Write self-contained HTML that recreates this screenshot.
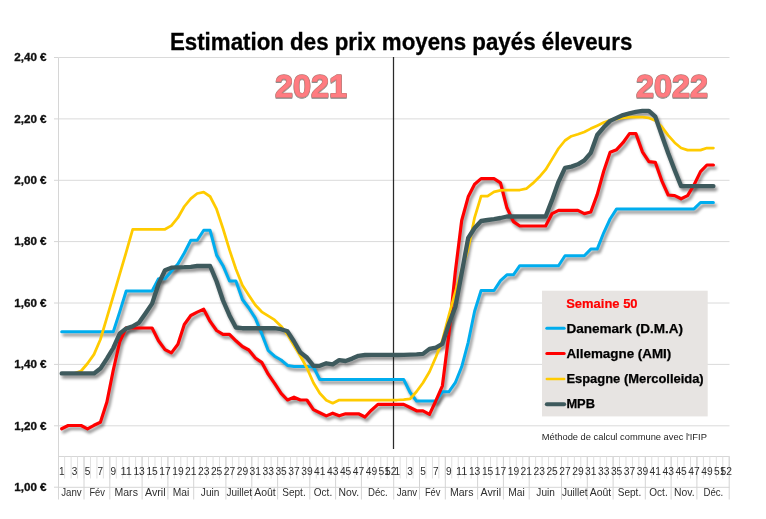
<!DOCTYPE html>
<html><head><meta charset="utf-8"><title>Estimation des prix moyens payés éleveurs</title>
<style>html,body{margin:0;padding:0;background:#fff}svg{display:block}text{font-family:"Liberation Sans",sans-serif}</style></head><body>
<svg width="766" height="519" viewBox="0 0 766 519">
<defs><filter id="sh" x="-5%" y="-5%" width="110%" height="115%"><feGaussianBlur in="SourceAlpha" stdDeviation="1.5"/><feOffset dx="2.1" dy="2.5"/><feComponentTransfer><feFuncA type="linear" slope="0.44"/></feComponentTransfer></filter><filter id="ts" x="-10%" y="-10%" width="120%" height="130%"><feGaussianBlur in="SourceAlpha" stdDeviation="0.6"/><feOffset dx="0.3" dy="0.9"/><feComponentTransfer><feFuncA type="linear" slope="0.45"/></feComponentTransfer><feMerge><feMergeNode/><feMergeNode in="SourceGraphic"/></feMerge></filter></defs>
<rect width="766" height="519" fill="#fff"/>
<g opacity="0.999">
<line x1="58.5" y1="57.5" x2="729.5" y2="57.5" stroke="#dadada" stroke-width="1"/>
<line x1="58.5" y1="118.9" x2="729.5" y2="118.9" stroke="#dadada" stroke-width="1"/>
<line x1="58.5" y1="180.3" x2="729.5" y2="180.3" stroke="#dadada" stroke-width="1"/>
<line x1="58.5" y1="241.6" x2="729.5" y2="241.6" stroke="#dadada" stroke-width="1"/>
<line x1="58.5" y1="303.0" x2="729.5" y2="303.0" stroke="#dadada" stroke-width="1"/>
<line x1="58.5" y1="364.4" x2="729.5" y2="364.4" stroke="#dadada" stroke-width="1"/>
<line x1="58.5" y1="425.8" x2="729.5" y2="425.8" stroke="#dadada" stroke-width="1"/>
<line x1="54" y1="57.5" x2="58.5" y2="57.5" stroke="#d6d6d6" stroke-width="1"/>
<line x1="54" y1="118.9" x2="58.5" y2="118.9" stroke="#d6d6d6" stroke-width="1"/>
<line x1="54" y1="180.3" x2="58.5" y2="180.3" stroke="#d6d6d6" stroke-width="1"/>
<line x1="54" y1="241.6" x2="58.5" y2="241.6" stroke="#d6d6d6" stroke-width="1"/>
<line x1="54" y1="303.0" x2="58.5" y2="303.0" stroke="#d6d6d6" stroke-width="1"/>
<line x1="54" y1="364.4" x2="58.5" y2="364.4" stroke="#d6d6d6" stroke-width="1"/>
<line x1="54" y1="425.8" x2="58.5" y2="425.8" stroke="#d6d6d6" stroke-width="1"/>
<line x1="54" y1="487.2" x2="58.5" y2="487.2" stroke="#d6d6d6" stroke-width="1"/>
<line x1="58.5" y1="57.5" x2="58.5" y2="499.5" stroke="#d6d6d6" stroke-width="1"/>
<line x1="58.5" y1="456.5" x2="729.5" y2="456.5" stroke="#d6d6d6" stroke-width="1"/>
<line x1="58.5" y1="487.3" x2="729.5" y2="487.3" stroke="#d6d6d6" stroke-width="1"/>
<line x1="64.65" y1="456.5" x2="64.65" y2="478.5" stroke="#e0e0e0" stroke-width="1"/>
<line x1="71.10" y1="456.5" x2="71.10" y2="478.5" stroke="#e0e0e0" stroke-width="1"/>
<line x1="77.56" y1="456.5" x2="77.56" y2="478.5" stroke="#e0e0e0" stroke-width="1"/>
<line x1="84.01" y1="456.5" x2="84.01" y2="478.5" stroke="#e0e0e0" stroke-width="1"/>
<line x1="90.46" y1="456.5" x2="90.46" y2="478.5" stroke="#e0e0e0" stroke-width="1"/>
<line x1="96.91" y1="456.5" x2="96.91" y2="478.5" stroke="#e0e0e0" stroke-width="1"/>
<line x1="103.36" y1="456.5" x2="103.36" y2="478.5" stroke="#e0e0e0" stroke-width="1"/>
<line x1="109.82" y1="456.5" x2="109.82" y2="478.5" stroke="#e0e0e0" stroke-width="1"/>
<line x1="116.27" y1="456.5" x2="116.27" y2="478.5" stroke="#e0e0e0" stroke-width="1"/>
<line x1="122.72" y1="456.5" x2="122.72" y2="478.5" stroke="#e0e0e0" stroke-width="1"/>
<line x1="129.17" y1="456.5" x2="129.17" y2="478.5" stroke="#e0e0e0" stroke-width="1"/>
<line x1="135.62" y1="456.5" x2="135.62" y2="478.5" stroke="#e0e0e0" stroke-width="1"/>
<line x1="142.07" y1="456.5" x2="142.07" y2="478.5" stroke="#e0e0e0" stroke-width="1"/>
<line x1="148.53" y1="456.5" x2="148.53" y2="478.5" stroke="#e0e0e0" stroke-width="1"/>
<line x1="154.98" y1="456.5" x2="154.98" y2="478.5" stroke="#e0e0e0" stroke-width="1"/>
<line x1="161.43" y1="456.5" x2="161.43" y2="478.5" stroke="#e0e0e0" stroke-width="1"/>
<line x1="167.88" y1="456.5" x2="167.88" y2="478.5" stroke="#e0e0e0" stroke-width="1"/>
<line x1="174.33" y1="456.5" x2="174.33" y2="478.5" stroke="#e0e0e0" stroke-width="1"/>
<line x1="180.79" y1="456.5" x2="180.79" y2="478.5" stroke="#e0e0e0" stroke-width="1"/>
<line x1="187.24" y1="456.5" x2="187.24" y2="478.5" stroke="#e0e0e0" stroke-width="1"/>
<line x1="193.69" y1="456.5" x2="193.69" y2="478.5" stroke="#e0e0e0" stroke-width="1"/>
<line x1="200.14" y1="456.5" x2="200.14" y2="478.5" stroke="#e0e0e0" stroke-width="1"/>
<line x1="206.59" y1="456.5" x2="206.59" y2="478.5" stroke="#e0e0e0" stroke-width="1"/>
<line x1="213.05" y1="456.5" x2="213.05" y2="478.5" stroke="#e0e0e0" stroke-width="1"/>
<line x1="219.50" y1="456.5" x2="219.50" y2="478.5" stroke="#e0e0e0" stroke-width="1"/>
<line x1="225.95" y1="456.5" x2="225.95" y2="478.5" stroke="#e0e0e0" stroke-width="1"/>
<line x1="232.40" y1="456.5" x2="232.40" y2="478.5" stroke="#e0e0e0" stroke-width="1"/>
<line x1="238.85" y1="456.5" x2="238.85" y2="478.5" stroke="#e0e0e0" stroke-width="1"/>
<line x1="245.31" y1="456.5" x2="245.31" y2="478.5" stroke="#e0e0e0" stroke-width="1"/>
<line x1="251.76" y1="456.5" x2="251.76" y2="478.5" stroke="#e0e0e0" stroke-width="1"/>
<line x1="258.21" y1="456.5" x2="258.21" y2="478.5" stroke="#e0e0e0" stroke-width="1"/>
<line x1="264.66" y1="456.5" x2="264.66" y2="478.5" stroke="#e0e0e0" stroke-width="1"/>
<line x1="271.11" y1="456.5" x2="271.11" y2="478.5" stroke="#e0e0e0" stroke-width="1"/>
<line x1="277.57" y1="456.5" x2="277.57" y2="478.5" stroke="#e0e0e0" stroke-width="1"/>
<line x1="284.02" y1="456.5" x2="284.02" y2="478.5" stroke="#e0e0e0" stroke-width="1"/>
<line x1="290.47" y1="456.5" x2="290.47" y2="478.5" stroke="#e0e0e0" stroke-width="1"/>
<line x1="296.92" y1="456.5" x2="296.92" y2="478.5" stroke="#e0e0e0" stroke-width="1"/>
<line x1="303.37" y1="456.5" x2="303.37" y2="478.5" stroke="#e0e0e0" stroke-width="1"/>
<line x1="309.82" y1="456.5" x2="309.82" y2="478.5" stroke="#e0e0e0" stroke-width="1"/>
<line x1="316.28" y1="456.5" x2="316.28" y2="478.5" stroke="#e0e0e0" stroke-width="1"/>
<line x1="322.73" y1="456.5" x2="322.73" y2="478.5" stroke="#e0e0e0" stroke-width="1"/>
<line x1="329.18" y1="456.5" x2="329.18" y2="478.5" stroke="#e0e0e0" stroke-width="1"/>
<line x1="335.63" y1="456.5" x2="335.63" y2="478.5" stroke="#e0e0e0" stroke-width="1"/>
<line x1="342.08" y1="456.5" x2="342.08" y2="478.5" stroke="#e0e0e0" stroke-width="1"/>
<line x1="348.54" y1="456.5" x2="348.54" y2="478.5" stroke="#e0e0e0" stroke-width="1"/>
<line x1="354.99" y1="456.5" x2="354.99" y2="478.5" stroke="#e0e0e0" stroke-width="1"/>
<line x1="361.44" y1="456.5" x2="361.44" y2="478.5" stroke="#e0e0e0" stroke-width="1"/>
<line x1="367.89" y1="456.5" x2="367.89" y2="478.5" stroke="#e0e0e0" stroke-width="1"/>
<line x1="374.34" y1="456.5" x2="374.34" y2="478.5" stroke="#e0e0e0" stroke-width="1"/>
<line x1="380.80" y1="456.5" x2="380.80" y2="478.5" stroke="#e0e0e0" stroke-width="1"/>
<line x1="387.25" y1="456.5" x2="387.25" y2="478.5" stroke="#e0e0e0" stroke-width="1"/>
<line x1="393.70" y1="456.5" x2="393.70" y2="478.5" stroke="#e0e0e0" stroke-width="1"/>
<line x1="400.15" y1="456.5" x2="400.15" y2="478.5" stroke="#e0e0e0" stroke-width="1"/>
<line x1="406.60" y1="456.5" x2="406.60" y2="478.5" stroke="#e0e0e0" stroke-width="1"/>
<line x1="413.06" y1="456.5" x2="413.06" y2="478.5" stroke="#e0e0e0" stroke-width="1"/>
<line x1="419.51" y1="456.5" x2="419.51" y2="478.5" stroke="#e0e0e0" stroke-width="1"/>
<line x1="425.96" y1="456.5" x2="425.96" y2="478.5" stroke="#e0e0e0" stroke-width="1"/>
<line x1="432.41" y1="456.5" x2="432.41" y2="478.5" stroke="#e0e0e0" stroke-width="1"/>
<line x1="438.86" y1="456.5" x2="438.86" y2="478.5" stroke="#e0e0e0" stroke-width="1"/>
<line x1="445.32" y1="456.5" x2="445.32" y2="478.5" stroke="#e0e0e0" stroke-width="1"/>
<line x1="451.77" y1="456.5" x2="451.77" y2="478.5" stroke="#e0e0e0" stroke-width="1"/>
<line x1="458.22" y1="456.5" x2="458.22" y2="478.5" stroke="#e0e0e0" stroke-width="1"/>
<line x1="464.67" y1="456.5" x2="464.67" y2="478.5" stroke="#e0e0e0" stroke-width="1"/>
<line x1="471.12" y1="456.5" x2="471.12" y2="478.5" stroke="#e0e0e0" stroke-width="1"/>
<line x1="477.57" y1="456.5" x2="477.57" y2="478.5" stroke="#e0e0e0" stroke-width="1"/>
<line x1="484.03" y1="456.5" x2="484.03" y2="478.5" stroke="#e0e0e0" stroke-width="1"/>
<line x1="490.48" y1="456.5" x2="490.48" y2="478.5" stroke="#e0e0e0" stroke-width="1"/>
<line x1="496.93" y1="456.5" x2="496.93" y2="478.5" stroke="#e0e0e0" stroke-width="1"/>
<line x1="503.38" y1="456.5" x2="503.38" y2="478.5" stroke="#e0e0e0" stroke-width="1"/>
<line x1="509.83" y1="456.5" x2="509.83" y2="478.5" stroke="#e0e0e0" stroke-width="1"/>
<line x1="516.29" y1="456.5" x2="516.29" y2="478.5" stroke="#e0e0e0" stroke-width="1"/>
<line x1="522.74" y1="456.5" x2="522.74" y2="478.5" stroke="#e0e0e0" stroke-width="1"/>
<line x1="529.19" y1="456.5" x2="529.19" y2="478.5" stroke="#e0e0e0" stroke-width="1"/>
<line x1="535.64" y1="456.5" x2="535.64" y2="478.5" stroke="#e0e0e0" stroke-width="1"/>
<line x1="542.09" y1="456.5" x2="542.09" y2="478.5" stroke="#e0e0e0" stroke-width="1"/>
<line x1="548.55" y1="456.5" x2="548.55" y2="478.5" stroke="#e0e0e0" stroke-width="1"/>
<line x1="555.00" y1="456.5" x2="555.00" y2="478.5" stroke="#e0e0e0" stroke-width="1"/>
<line x1="561.45" y1="456.5" x2="561.45" y2="478.5" stroke="#e0e0e0" stroke-width="1"/>
<line x1="567.90" y1="456.5" x2="567.90" y2="478.5" stroke="#e0e0e0" stroke-width="1"/>
<line x1="574.35" y1="456.5" x2="574.35" y2="478.5" stroke="#e0e0e0" stroke-width="1"/>
<line x1="580.81" y1="456.5" x2="580.81" y2="478.5" stroke="#e0e0e0" stroke-width="1"/>
<line x1="587.26" y1="456.5" x2="587.26" y2="478.5" stroke="#e0e0e0" stroke-width="1"/>
<line x1="593.71" y1="456.5" x2="593.71" y2="478.5" stroke="#e0e0e0" stroke-width="1"/>
<line x1="600.16" y1="456.5" x2="600.16" y2="478.5" stroke="#e0e0e0" stroke-width="1"/>
<line x1="606.61" y1="456.5" x2="606.61" y2="478.5" stroke="#e0e0e0" stroke-width="1"/>
<line x1="613.07" y1="456.5" x2="613.07" y2="478.5" stroke="#e0e0e0" stroke-width="1"/>
<line x1="619.52" y1="456.5" x2="619.52" y2="478.5" stroke="#e0e0e0" stroke-width="1"/>
<line x1="625.97" y1="456.5" x2="625.97" y2="478.5" stroke="#e0e0e0" stroke-width="1"/>
<line x1="632.42" y1="456.5" x2="632.42" y2="478.5" stroke="#e0e0e0" stroke-width="1"/>
<line x1="638.87" y1="456.5" x2="638.87" y2="478.5" stroke="#e0e0e0" stroke-width="1"/>
<line x1="645.33" y1="456.5" x2="645.33" y2="478.5" stroke="#e0e0e0" stroke-width="1"/>
<line x1="651.78" y1="456.5" x2="651.78" y2="478.5" stroke="#e0e0e0" stroke-width="1"/>
<line x1="658.23" y1="456.5" x2="658.23" y2="478.5" stroke="#e0e0e0" stroke-width="1"/>
<line x1="664.68" y1="456.5" x2="664.68" y2="478.5" stroke="#e0e0e0" stroke-width="1"/>
<line x1="671.13" y1="456.5" x2="671.13" y2="478.5" stroke="#e0e0e0" stroke-width="1"/>
<line x1="677.58" y1="456.5" x2="677.58" y2="478.5" stroke="#e0e0e0" stroke-width="1"/>
<line x1="684.04" y1="456.5" x2="684.04" y2="478.5" stroke="#e0e0e0" stroke-width="1"/>
<line x1="690.49" y1="456.5" x2="690.49" y2="478.5" stroke="#e0e0e0" stroke-width="1"/>
<line x1="696.94" y1="456.5" x2="696.94" y2="478.5" stroke="#e0e0e0" stroke-width="1"/>
<line x1="703.39" y1="456.5" x2="703.39" y2="478.5" stroke="#e0e0e0" stroke-width="1"/>
<line x1="709.84" y1="456.5" x2="709.84" y2="478.5" stroke="#e0e0e0" stroke-width="1"/>
<line x1="716.30" y1="456.5" x2="716.30" y2="478.5" stroke="#e0e0e0" stroke-width="1"/>
<line x1="722.75" y1="456.5" x2="722.75" y2="478.5" stroke="#e0e0e0" stroke-width="1"/>
<line x1="729.20" y1="456.5" x2="729.20" y2="478.5" stroke="#e0e0e0" stroke-width="1"/>
<line x1="84.0" y1="456.5" x2="84.0" y2="499.5" stroke="#d4d4d4" stroke-width="1"/>
<text x="71.4" y="495.7" font-size="10.6" fill="#2e2e2e" text-anchor="middle" textLength="20.5" lengthAdjust="spacingAndGlyphs">Janv</text>
<line x1="109.8" y1="456.5" x2="109.8" y2="499.5" stroke="#d4d4d4" stroke-width="1"/>
<text x="97.2" y="495.7" font-size="10.6" fill="#2e2e2e" text-anchor="middle" textLength="15.5" lengthAdjust="spacingAndGlyphs">Fév</text>
<line x1="142.1" y1="456.5" x2="142.1" y2="499.5" stroke="#d4d4d4" stroke-width="1"/>
<text x="126.2" y="495.7" font-size="10.6" fill="#2e2e2e" text-anchor="middle" textLength="23.4" lengthAdjust="spacingAndGlyphs">Mars</text>
<line x1="167.9" y1="456.5" x2="167.9" y2="499.5" stroke="#d4d4d4" stroke-width="1"/>
<text x="155.3" y="495.7" font-size="10.6" fill="#2e2e2e" text-anchor="middle" textLength="20.6" lengthAdjust="spacingAndGlyphs">Avril</text>
<line x1="193.7" y1="456.5" x2="193.7" y2="499.5" stroke="#d4d4d4" stroke-width="1"/>
<text x="181.1" y="495.7" font-size="10.6" fill="#2e2e2e" text-anchor="middle" textLength="16.6" lengthAdjust="spacingAndGlyphs">Mai</text>
<line x1="225.9" y1="456.5" x2="225.9" y2="499.5" stroke="#d4d4d4" stroke-width="1"/>
<text x="210.1" y="495.7" font-size="10.6" fill="#2e2e2e" text-anchor="middle" textLength="18.5" lengthAdjust="spacingAndGlyphs">Juin</text>
<line x1="251.8" y1="456.5" x2="251.8" y2="499.5" stroke="#d4d4d4" stroke-width="1"/>
<text x="239.2" y="495.7" font-size="10.6" fill="#2e2e2e" text-anchor="middle" textLength="25.6" lengthAdjust="spacingAndGlyphs">Juillet</text>
<line x1="277.6" y1="456.5" x2="277.6" y2="499.5" stroke="#d4d4d4" stroke-width="1"/>
<text x="265.0" y="495.7" font-size="10.6" fill="#2e2e2e" text-anchor="middle" textLength="21.6" lengthAdjust="spacingAndGlyphs">Août</text>
<line x1="309.8" y1="456.5" x2="309.8" y2="499.5" stroke="#d4d4d4" stroke-width="1"/>
<text x="294.0" y="495.7" font-size="10.6" fill="#2e2e2e" text-anchor="middle" textLength="23.4" lengthAdjust="spacingAndGlyphs">Sept.</text>
<line x1="335.6" y1="456.5" x2="335.6" y2="499.5" stroke="#d4d4d4" stroke-width="1"/>
<text x="323.0" y="495.7" font-size="10.6" fill="#2e2e2e" text-anchor="middle" textLength="18.4" lengthAdjust="spacingAndGlyphs">Oct.</text>
<line x1="361.4" y1="456.5" x2="361.4" y2="499.5" stroke="#d4d4d4" stroke-width="1"/>
<text x="348.8" y="495.7" font-size="10.6" fill="#2e2e2e" text-anchor="middle" textLength="20.6" lengthAdjust="spacingAndGlyphs">Nov.</text>
<line x1="393.7" y1="456.5" x2="393.7" y2="499.5" stroke="#d4d4d4" stroke-width="1"/>
<text x="377.9" y="495.7" font-size="10.6" fill="#2e2e2e" text-anchor="middle" textLength="19.8" lengthAdjust="spacingAndGlyphs">Déc.</text>
<line x1="419.5" y1="456.5" x2="419.5" y2="499.5" stroke="#d4d4d4" stroke-width="1"/>
<text x="406.9" y="495.7" font-size="10.6" fill="#2e2e2e" text-anchor="middle" textLength="20.5" lengthAdjust="spacingAndGlyphs">Janv</text>
<line x1="445.3" y1="456.5" x2="445.3" y2="499.5" stroke="#d4d4d4" stroke-width="1"/>
<text x="432.7" y="495.7" font-size="10.6" fill="#2e2e2e" text-anchor="middle" textLength="15.5" lengthAdjust="spacingAndGlyphs">Fév</text>
<line x1="477.6" y1="456.5" x2="477.6" y2="499.5" stroke="#d4d4d4" stroke-width="1"/>
<text x="461.7" y="495.7" font-size="10.6" fill="#2e2e2e" text-anchor="middle" textLength="23.4" lengthAdjust="spacingAndGlyphs">Mars</text>
<line x1="503.4" y1="456.5" x2="503.4" y2="499.5" stroke="#d4d4d4" stroke-width="1"/>
<text x="490.8" y="495.7" font-size="10.6" fill="#2e2e2e" text-anchor="middle" textLength="20.6" lengthAdjust="spacingAndGlyphs">Avril</text>
<line x1="529.2" y1="456.5" x2="529.2" y2="499.5" stroke="#d4d4d4" stroke-width="1"/>
<text x="516.6" y="495.7" font-size="10.6" fill="#2e2e2e" text-anchor="middle" textLength="16.6" lengthAdjust="spacingAndGlyphs">Mai</text>
<line x1="561.5" y1="456.5" x2="561.5" y2="499.5" stroke="#d4d4d4" stroke-width="1"/>
<text x="545.6" y="495.7" font-size="10.6" fill="#2e2e2e" text-anchor="middle" textLength="18.5" lengthAdjust="spacingAndGlyphs">Juin</text>
<line x1="587.3" y1="456.5" x2="587.3" y2="499.5" stroke="#d4d4d4" stroke-width="1"/>
<text x="574.7" y="495.7" font-size="10.6" fill="#2e2e2e" text-anchor="middle" textLength="25.6" lengthAdjust="spacingAndGlyphs">Juillet</text>
<line x1="613.1" y1="456.5" x2="613.1" y2="499.5" stroke="#d4d4d4" stroke-width="1"/>
<text x="600.5" y="495.7" font-size="10.6" fill="#2e2e2e" text-anchor="middle" textLength="21.6" lengthAdjust="spacingAndGlyphs">Août</text>
<line x1="645.3" y1="456.5" x2="645.3" y2="499.5" stroke="#d4d4d4" stroke-width="1"/>
<text x="629.5" y="495.7" font-size="10.6" fill="#2e2e2e" text-anchor="middle" textLength="23.4" lengthAdjust="spacingAndGlyphs">Sept.</text>
<line x1="671.1" y1="456.5" x2="671.1" y2="499.5" stroke="#d4d4d4" stroke-width="1"/>
<text x="658.5" y="495.7" font-size="10.6" fill="#2e2e2e" text-anchor="middle" textLength="18.4" lengthAdjust="spacingAndGlyphs">Oct.</text>
<line x1="696.9" y1="456.5" x2="696.9" y2="499.5" stroke="#d4d4d4" stroke-width="1"/>
<text x="684.3" y="495.7" font-size="10.6" fill="#2e2e2e" text-anchor="middle" textLength="20.6" lengthAdjust="spacingAndGlyphs">Nov.</text>
<line x1="729.2" y1="456.5" x2="729.2" y2="499.5" stroke="#d4d4d4" stroke-width="1"/>
<text x="713.4" y="495.7" font-size="10.6" fill="#2e2e2e" text-anchor="middle" textLength="19.8" lengthAdjust="spacingAndGlyphs">Déc.</text>
<text x="61.7" y="474.9" font-size="10.6" fill="#2e2e2e" text-anchor="middle" textLength="5.6" lengthAdjust="spacingAndGlyphs">1</text>
<text x="74.6" y="474.9" font-size="10.6" fill="#2e2e2e" text-anchor="middle" textLength="5.6" lengthAdjust="spacingAndGlyphs">3</text>
<text x="87.5" y="474.9" font-size="10.6" fill="#2e2e2e" text-anchor="middle" textLength="5.6" lengthAdjust="spacingAndGlyphs">5</text>
<text x="100.4" y="474.9" font-size="10.6" fill="#2e2e2e" text-anchor="middle" textLength="5.6" lengthAdjust="spacingAndGlyphs">7</text>
<text x="113.3" y="474.9" font-size="10.6" fill="#2e2e2e" text-anchor="middle" textLength="5.6" lengthAdjust="spacingAndGlyphs">9</text>
<text x="126.2" y="474.9" font-size="10.6" fill="#2e2e2e" text-anchor="middle" textLength="11.4" lengthAdjust="spacingAndGlyphs">11</text>
<text x="139.1" y="474.9" font-size="10.6" fill="#2e2e2e" text-anchor="middle" textLength="11.4" lengthAdjust="spacingAndGlyphs">13</text>
<text x="152.1" y="474.9" font-size="10.6" fill="#2e2e2e" text-anchor="middle" textLength="11.4" lengthAdjust="spacingAndGlyphs">15</text>
<text x="165.0" y="474.9" font-size="10.6" fill="#2e2e2e" text-anchor="middle" textLength="11.4" lengthAdjust="spacingAndGlyphs">17</text>
<text x="177.9" y="474.9" font-size="10.6" fill="#2e2e2e" text-anchor="middle" textLength="11.4" lengthAdjust="spacingAndGlyphs">19</text>
<text x="190.8" y="474.9" font-size="10.6" fill="#2e2e2e" text-anchor="middle" textLength="11.4" lengthAdjust="spacingAndGlyphs">21</text>
<text x="203.7" y="474.9" font-size="10.6" fill="#2e2e2e" text-anchor="middle" textLength="11.4" lengthAdjust="spacingAndGlyphs">23</text>
<text x="216.6" y="474.9" font-size="10.6" fill="#2e2e2e" text-anchor="middle" textLength="11.4" lengthAdjust="spacingAndGlyphs">25</text>
<text x="229.5" y="474.9" font-size="10.6" fill="#2e2e2e" text-anchor="middle" textLength="11.4" lengthAdjust="spacingAndGlyphs">27</text>
<text x="242.4" y="474.9" font-size="10.6" fill="#2e2e2e" text-anchor="middle" textLength="11.4" lengthAdjust="spacingAndGlyphs">29</text>
<text x="255.3" y="474.9" font-size="10.6" fill="#2e2e2e" text-anchor="middle" textLength="11.4" lengthAdjust="spacingAndGlyphs">31</text>
<text x="268.2" y="474.9" font-size="10.6" fill="#2e2e2e" text-anchor="middle" textLength="11.4" lengthAdjust="spacingAndGlyphs">33</text>
<text x="281.1" y="474.9" font-size="10.6" fill="#2e2e2e" text-anchor="middle" textLength="11.4" lengthAdjust="spacingAndGlyphs">35</text>
<text x="294.0" y="474.9" font-size="10.6" fill="#2e2e2e" text-anchor="middle" textLength="11.4" lengthAdjust="spacingAndGlyphs">37</text>
<text x="306.9" y="474.9" font-size="10.6" fill="#2e2e2e" text-anchor="middle" textLength="11.4" lengthAdjust="spacingAndGlyphs">39</text>
<text x="319.8" y="474.9" font-size="10.6" fill="#2e2e2e" text-anchor="middle" textLength="11.4" lengthAdjust="spacingAndGlyphs">41</text>
<text x="332.7" y="474.9" font-size="10.6" fill="#2e2e2e" text-anchor="middle" textLength="11.4" lengthAdjust="spacingAndGlyphs">43</text>
<text x="345.6" y="474.9" font-size="10.6" fill="#2e2e2e" text-anchor="middle" textLength="11.4" lengthAdjust="spacingAndGlyphs">45</text>
<text x="358.5" y="474.9" font-size="10.6" fill="#2e2e2e" text-anchor="middle" textLength="11.4" lengthAdjust="spacingAndGlyphs">47</text>
<text x="371.4" y="474.9" font-size="10.6" fill="#2e2e2e" text-anchor="middle" textLength="11.4" lengthAdjust="spacingAndGlyphs">49</text>
<text x="384.3" y="474.9" font-size="10.6" fill="#2e2e2e" text-anchor="middle" textLength="11.4" lengthAdjust="spacingAndGlyphs">51</text>
<text x="390.8" y="474.9" font-size="10.6" fill="#2e2e2e" text-anchor="middle" textLength="11.4" lengthAdjust="spacingAndGlyphs">52</text>
<text x="397.2" y="474.9" font-size="10.6" fill="#2e2e2e" text-anchor="middle" textLength="5.6" lengthAdjust="spacingAndGlyphs">1</text>
<text x="410.1" y="474.9" font-size="10.6" fill="#2e2e2e" text-anchor="middle" textLength="5.6" lengthAdjust="spacingAndGlyphs">3</text>
<text x="423.0" y="474.9" font-size="10.6" fill="#2e2e2e" text-anchor="middle" textLength="5.6" lengthAdjust="spacingAndGlyphs">5</text>
<text x="435.9" y="474.9" font-size="10.6" fill="#2e2e2e" text-anchor="middle" textLength="5.6" lengthAdjust="spacingAndGlyphs">7</text>
<text x="448.8" y="474.9" font-size="10.6" fill="#2e2e2e" text-anchor="middle" textLength="5.6" lengthAdjust="spacingAndGlyphs">9</text>
<text x="461.7" y="474.9" font-size="10.6" fill="#2e2e2e" text-anchor="middle" textLength="11.4" lengthAdjust="spacingAndGlyphs">11</text>
<text x="474.6" y="474.9" font-size="10.6" fill="#2e2e2e" text-anchor="middle" textLength="11.4" lengthAdjust="spacingAndGlyphs">13</text>
<text x="487.6" y="474.9" font-size="10.6" fill="#2e2e2e" text-anchor="middle" textLength="11.4" lengthAdjust="spacingAndGlyphs">15</text>
<text x="500.5" y="474.9" font-size="10.6" fill="#2e2e2e" text-anchor="middle" textLength="11.4" lengthAdjust="spacingAndGlyphs">17</text>
<text x="513.4" y="474.9" font-size="10.6" fill="#2e2e2e" text-anchor="middle" textLength="11.4" lengthAdjust="spacingAndGlyphs">19</text>
<text x="526.3" y="474.9" font-size="10.6" fill="#2e2e2e" text-anchor="middle" textLength="11.4" lengthAdjust="spacingAndGlyphs">21</text>
<text x="539.2" y="474.9" font-size="10.6" fill="#2e2e2e" text-anchor="middle" textLength="11.4" lengthAdjust="spacingAndGlyphs">23</text>
<text x="552.1" y="474.9" font-size="10.6" fill="#2e2e2e" text-anchor="middle" textLength="11.4" lengthAdjust="spacingAndGlyphs">25</text>
<text x="565.0" y="474.9" font-size="10.6" fill="#2e2e2e" text-anchor="middle" textLength="11.4" lengthAdjust="spacingAndGlyphs">27</text>
<text x="577.9" y="474.9" font-size="10.6" fill="#2e2e2e" text-anchor="middle" textLength="11.4" lengthAdjust="spacingAndGlyphs">29</text>
<text x="590.8" y="474.9" font-size="10.6" fill="#2e2e2e" text-anchor="middle" textLength="11.4" lengthAdjust="spacingAndGlyphs">31</text>
<text x="603.7" y="474.9" font-size="10.6" fill="#2e2e2e" text-anchor="middle" textLength="11.4" lengthAdjust="spacingAndGlyphs">33</text>
<text x="616.6" y="474.9" font-size="10.6" fill="#2e2e2e" text-anchor="middle" textLength="11.4" lengthAdjust="spacingAndGlyphs">35</text>
<text x="629.5" y="474.9" font-size="10.6" fill="#2e2e2e" text-anchor="middle" textLength="11.4" lengthAdjust="spacingAndGlyphs">37</text>
<text x="642.4" y="474.9" font-size="10.6" fill="#2e2e2e" text-anchor="middle" textLength="11.4" lengthAdjust="spacingAndGlyphs">39</text>
<text x="655.3" y="474.9" font-size="10.6" fill="#2e2e2e" text-anchor="middle" textLength="11.4" lengthAdjust="spacingAndGlyphs">41</text>
<text x="668.2" y="474.9" font-size="10.6" fill="#2e2e2e" text-anchor="middle" textLength="11.4" lengthAdjust="spacingAndGlyphs">43</text>
<text x="681.1" y="474.9" font-size="10.6" fill="#2e2e2e" text-anchor="middle" textLength="11.4" lengthAdjust="spacingAndGlyphs">45</text>
<text x="694.0" y="474.9" font-size="10.6" fill="#2e2e2e" text-anchor="middle" textLength="11.4" lengthAdjust="spacingAndGlyphs">47</text>
<text x="706.9" y="474.9" font-size="10.6" fill="#2e2e2e" text-anchor="middle" textLength="11.4" lengthAdjust="spacingAndGlyphs">49</text>
<text x="719.8" y="474.9" font-size="10.6" fill="#2e2e2e" text-anchor="middle" textLength="11.4" lengthAdjust="spacingAndGlyphs">51</text>
<text x="726.3" y="474.9" font-size="10.6" fill="#2e2e2e" text-anchor="middle" textLength="11.4" lengthAdjust="spacingAndGlyphs">52</text>
<text x="14.2" y="61.2" font-size="10.5" font-weight="bold" fill="#111" stroke="#111" stroke-width="0.3" textLength="32.4" lengthAdjust="spacingAndGlyphs">2,40 €</text>
<text x="14.2" y="122.6" font-size="10.5" font-weight="bold" fill="#111" stroke="#111" stroke-width="0.3" textLength="32.4" lengthAdjust="spacingAndGlyphs">2,20 €</text>
<text x="14.2" y="184.0" font-size="10.5" font-weight="bold" fill="#111" stroke="#111" stroke-width="0.3" textLength="32.4" lengthAdjust="spacingAndGlyphs">2,00 €</text>
<text x="14.2" y="245.3" font-size="10.5" font-weight="bold" fill="#111" stroke="#111" stroke-width="0.3" textLength="32.4" lengthAdjust="spacingAndGlyphs">1,80 €</text>
<text x="14.2" y="306.7" font-size="10.5" font-weight="bold" fill="#111" stroke="#111" stroke-width="0.3" textLength="32.4" lengthAdjust="spacingAndGlyphs">1,60 €</text>
<text x="14.2" y="368.1" font-size="10.5" font-weight="bold" fill="#111" stroke="#111" stroke-width="0.3" textLength="32.4" lengthAdjust="spacingAndGlyphs">1,40 €</text>
<text x="14.2" y="429.5" font-size="10.5" font-weight="bold" fill="#111" stroke="#111" stroke-width="0.3" textLength="32.4" lengthAdjust="spacingAndGlyphs">1,20 €</text>
<text x="14.2" y="490.9" font-size="10.5" font-weight="bold" fill="#111" stroke="#111" stroke-width="0.3" textLength="32.4" lengthAdjust="spacingAndGlyphs">1,00 €</text>
<line x1="393.5" y1="57" x2="393.5" y2="449.1" stroke="#2a2a2a" stroke-width="1.25"/>
<rect x="542" y="290.7" width="165.7" height="125.7" fill="#e7e4e2"/>
<path d="M61.7,331.7 L68.2,331.7 L74.6,331.7 L81.1,331.7 L87.5,331.7 L94.0,331.7 L100.4,331.7 L106.9,331.7 L113.3,331.7 L119.8,311.6 L126.2,291.0 L132.7,291.0 L139.1,291.0 L145.6,291.0 L152.1,291.0 L158.5,278.7 L165.0,278.7 L171.4,271.3 L177.9,263.9 L184.3,253.0 L190.8,240.2 L197.2,240.2 L203.7,230.3 L210.1,230.3 L216.6,255.1 L223.0,265.7 L229.5,281.0 L235.9,281.0 L242.4,299.5 L248.8,308.0 L255.3,318.1 L261.7,333.6 L268.2,350.5 L274.6,356.2 L281.1,360.0 L287.5,365.4 L294.0,366.4 L300.4,366.4 L306.9,366.4 L313.4,366.9 L319.8,379.5 L326.3,379.5 L332.7,379.5 L339.2,379.5 L345.6,379.5 L352.1,379.5 L358.5,379.5 L365.0,379.5 L371.4,379.5 L377.9,379.5 L384.3,379.5 L390.8,379.5 L397.2,379.5 L403.7,379.5 L410.1,392.5 L416.6,401.1 L423.0,401.1 L429.5,401.1 L435.9,401.1 L442.4,391.8 L448.8,391.8 L455.3,382.7 L461.7,366.8 L468.2,342.3 L474.6,311.3 L481.1,290.5 L487.6,290.5 L494.0,290.5 L500.5,280.6 L506.9,274.8 L513.4,274.8 L519.8,265.7 L526.3,265.7 L532.7,265.7 L539.2,265.7 L545.6,265.7 L552.1,265.7 L558.5,265.7 L565.0,255.8 L571.4,255.8 L577.9,255.8 L584.3,255.8 L590.8,249.1 L597.2,249.1 L603.7,232.8 L610.1,219.0 L616.6,208.9 L623.0,208.9 L629.5,208.9 L635.9,208.9 L642.4,208.9 L648.9,208.9 L655.3,208.9 L661.8,208.9 L668.2,208.9 L674.7,208.9 L681.1,208.9 L687.6,208.9 L694.0,208.9 L700.5,202.5 L706.9,202.5 L713.4,202.5" fill="none" stroke="#000" stroke-width="3.0" stroke-linejoin="round" stroke-linecap="round" filter="url(#sh)"/>
<path d="M61.7,428.8 L68.2,425.5 L74.6,425.5 L81.1,425.5 L87.5,428.8 L94.0,425.3 L100.4,422.3 L106.9,402.0 L113.3,370.0 L119.8,341.5 L126.2,327.8 L132.7,328.0 L139.1,328.0 L145.6,328.0 L152.1,328.0 L158.5,340.8 L165.0,349.6 L171.4,352.9 L177.9,344.3 L184.3,324.5 L190.8,315.5 L197.2,312.1 L203.7,309.2 L210.1,321.4 L216.6,330.5 L223.0,334.4 L229.5,334.4 L235.9,340.8 L242.4,346.5 L248.8,350.0 L255.3,358.0 L261.7,362.3 L268.2,374.2 L274.6,383.4 L281.1,393.4 L287.5,400.0 L294.0,397.2 L300.4,400.0 L306.9,400.0 L313.4,409.6 L319.8,412.7 L326.3,415.9 L332.7,413.2 L339.2,415.8 L345.6,413.8 L352.1,413.8 L358.5,413.8 L365.0,417.0 L371.4,410.2 L377.9,404.4 L384.3,404.4 L390.8,404.4 L397.2,404.4 L403.7,404.4 L410.1,407.5 L416.6,410.8 L423.0,410.8 L429.5,414.4 L435.9,400.7 L442.4,385.8 L448.8,335.0 L455.3,272.0 L461.7,220.5 L468.2,196.8 L474.6,184.2 L481.1,178.6 L487.6,178.5 L494.0,178.6 L500.5,182.8 L506.9,207.8 L513.4,221.6 L519.8,226.0 L526.3,226.0 L532.7,226.0 L539.2,226.0 L545.6,226.0 L552.1,213.6 L558.5,210.3 L565.0,210.3 L571.4,210.3 L577.9,210.3 L584.3,213.6 L590.8,212.0 L597.2,194.6 L603.7,171.3 L610.1,152.2 L616.6,149.7 L623.0,142.7 L629.5,133.6 L635.9,133.6 L642.4,151.8 L648.9,161.7 L655.3,162.4 L661.8,180.8 L668.2,195.0 L674.7,195.6 L681.1,198.8 L687.6,195.6 L694.0,185.0 L700.5,171.6 L706.9,165.0 L713.4,165.0" fill="none" stroke="#000" stroke-width="3.2" stroke-linejoin="round" stroke-linecap="round" filter="url(#sh)"/>
<path d="M61.7,373.4 L68.2,373.4 L74.6,373.4 L81.1,373.4 L87.5,373.4 L94.0,373.4 L100.4,368.6 L106.9,358.6 L113.3,348.0 L119.8,333.4 L126.2,328.5 L132.7,326.4 L139.1,322.6 L145.6,313.2 L152.1,303.6 L158.5,284.0 L165.0,270.2 L171.4,267.7 L177.9,267.4 L184.3,267.2 L190.8,266.8 L197.2,266.0 L203.7,266.0 L210.1,266.0 L216.6,281.5 L223.0,300.5 L229.5,315.4 L235.9,327.5 L242.4,328.2 L248.8,328.2 L255.3,328.2 L261.7,328.2 L268.2,328.2 L274.6,328.2 L281.1,329.2 L287.5,331.3 L294.0,341.5 L300.4,352.6 L306.9,357.5 L313.4,365.8 L319.8,365.8 L326.3,363.3 L332.7,364.4 L339.2,360.1 L345.6,361.0 L352.1,358.6 L358.5,355.8 L365.0,355.0 L371.4,354.8 L377.9,354.8 L384.3,354.8 L390.8,354.8 L397.2,355.0 L403.7,354.8 L410.1,354.6 L416.6,354.4 L423.0,353.9 L429.5,348.9 L435.9,347.6 L442.4,343.8 L448.8,324.0 L455.3,307.0 L461.7,273.1 L468.2,238.0 L474.6,228.0 L481.1,221.0 L487.6,220.0 L494.0,219.1 L500.5,218.0 L506.9,216.5 L513.4,216.5 L519.8,216.5 L526.3,216.5 L532.7,216.5 L539.2,216.5 L545.6,216.5 L552.1,199.9 L558.5,181.8 L565.0,167.8 L571.4,166.6 L577.9,164.3 L584.3,160.4 L590.8,152.8 L597.2,135.0 L603.7,127.3 L610.1,120.9 L616.6,117.9 L623.0,115.1 L629.5,113.4 L635.9,111.8 L642.4,110.8 L648.9,110.8 L655.3,116.6 L661.8,135.3 L668.2,153.3 L674.7,170.2 L681.1,186.1 L687.6,186.1 L694.0,186.1 L700.5,186.1 L706.9,186.1 L713.4,186.1" fill="none" stroke="#000" stroke-width="4.35" stroke-linejoin="round" stroke-linecap="round" filter="url(#sh)"/>
<path d="M61.7,331.7 L68.2,331.7 L74.6,331.7 L81.1,331.7 L87.5,331.7 L94.0,331.7 L100.4,331.7 L106.9,331.7 L113.3,331.7 L119.8,311.6 L126.2,291.0 L132.7,291.0 L139.1,291.0 L145.6,291.0 L152.1,291.0 L158.5,278.7 L165.0,278.7 L171.4,271.3 L177.9,263.9 L184.3,253.0 L190.8,240.2 L197.2,240.2 L203.7,230.3 L210.1,230.3 L216.6,255.1 L223.0,265.7 L229.5,281.0 L235.9,281.0 L242.4,299.5 L248.8,308.0 L255.3,318.1 L261.7,333.6 L268.2,350.5 L274.6,356.2 L281.1,360.0 L287.5,365.4 L294.0,366.4 L300.4,366.4 L306.9,366.4 L313.4,366.9 L319.8,379.5 L326.3,379.5 L332.7,379.5 L339.2,379.5 L345.6,379.5 L352.1,379.5 L358.5,379.5 L365.0,379.5 L371.4,379.5 L377.9,379.5 L384.3,379.5 L390.8,379.5 L397.2,379.5 L403.7,379.5 L410.1,392.5 L416.6,401.1 L423.0,401.1 L429.5,401.1 L435.9,401.1 L442.4,391.8 L448.8,391.8 L455.3,382.7 L461.7,366.8 L468.2,342.3 L474.6,311.3 L481.1,290.5 L487.6,290.5 L494.0,290.5 L500.5,280.6 L506.9,274.8 L513.4,274.8 L519.8,265.7 L526.3,265.7 L532.7,265.7 L539.2,265.7 L545.6,265.7 L552.1,265.7 L558.5,265.7 L565.0,255.8 L571.4,255.8 L577.9,255.8 L584.3,255.8 L590.8,249.1 L597.2,249.1 L603.7,232.8 L610.1,219.0 L616.6,208.9 L623.0,208.9 L629.5,208.9 L635.9,208.9 L642.4,208.9 L648.9,208.9 L655.3,208.9 L661.8,208.9 L668.2,208.9 L674.7,208.9 L681.1,208.9 L687.6,208.9 L694.0,208.9 L700.5,202.5 L706.9,202.5 L713.4,202.5" fill="none" stroke="#00adee" stroke-width="3.0" stroke-linejoin="round" stroke-linecap="round"/>
<path d="M61.7,428.8 L68.2,425.5 L74.6,425.5 L81.1,425.5 L87.5,428.8 L94.0,425.3 L100.4,422.3 L106.9,402.0 L113.3,370.0 L119.8,341.5 L126.2,327.8 L132.7,328.0 L139.1,328.0 L145.6,328.0 L152.1,328.0 L158.5,340.8 L165.0,349.6 L171.4,352.9 L177.9,344.3 L184.3,324.5 L190.8,315.5 L197.2,312.1 L203.7,309.2 L210.1,321.4 L216.6,330.5 L223.0,334.4 L229.5,334.4 L235.9,340.8 L242.4,346.5 L248.8,350.0 L255.3,358.0 L261.7,362.3 L268.2,374.2 L274.6,383.4 L281.1,393.4 L287.5,400.0 L294.0,397.2 L300.4,400.0 L306.9,400.0 L313.4,409.6 L319.8,412.7 L326.3,415.9 L332.7,413.2 L339.2,415.8 L345.6,413.8 L352.1,413.8 L358.5,413.8 L365.0,417.0 L371.4,410.2 L377.9,404.4 L384.3,404.4 L390.8,404.4 L397.2,404.4 L403.7,404.4 L410.1,407.5 L416.6,410.8 L423.0,410.8 L429.5,414.4 L435.9,400.7 L442.4,385.8 L448.8,335.0 L455.3,272.0 L461.7,220.5 L468.2,196.8 L474.6,184.2 L481.1,178.6 L487.6,178.5 L494.0,178.6 L500.5,182.8 L506.9,207.8 L513.4,221.6 L519.8,226.0 L526.3,226.0 L532.7,226.0 L539.2,226.0 L545.6,226.0 L552.1,213.6 L558.5,210.3 L565.0,210.3 L571.4,210.3 L577.9,210.3 L584.3,213.6 L590.8,212.0 L597.2,194.6 L603.7,171.3 L610.1,152.2 L616.6,149.7 L623.0,142.7 L629.5,133.6 L635.9,133.6 L642.4,151.8 L648.9,161.7 L655.3,162.4 L661.8,180.8 L668.2,195.0 L674.7,195.6 L681.1,198.8 L687.6,195.6 L694.0,185.0 L700.5,171.6 L706.9,165.0 L713.4,165.0" fill="none" stroke="#ff0000" stroke-width="3.2" stroke-linejoin="round" stroke-linecap="round"/>
<path d="M61.7,373.4 L68.2,373.4 L74.6,373.4 L81.1,371.0 L87.5,363.5 L94.0,354.4 L100.4,339.5 L106.9,317.7 L113.3,296.0 L119.8,273.9 L126.2,252.2 L132.7,229.3 L139.1,229.3 L145.6,229.3 L152.1,229.3 L158.5,229.3 L165.0,229.3 L171.4,225.6 L177.9,217.7 L184.3,206.5 L190.8,198.6 L197.2,193.5 L203.7,192.2 L210.1,196.5 L216.6,209.2 L223.0,228.5 L229.5,249.9 L235.9,269.0 L242.4,285.3 L248.8,295.3 L255.3,305.0 L261.7,311.8 L268.2,315.9 L274.6,319.9 L281.1,326.2 L287.5,334.6 L294.0,345.5 L300.4,356.0 L306.9,368.0 L313.4,382.7 L319.8,393.3 L326.3,400.3 L332.7,403.2 L339.2,400.0 L345.6,400.0 L352.1,400.0 L358.5,400.0 L365.0,400.0 L371.4,400.0 L377.9,400.0 L384.3,400.0 L390.8,400.0 L397.2,400.0 L403.7,399.6 L410.1,398.9 L416.6,391.5 L423.0,382.7 L429.5,371.8 L435.9,357.0 L442.4,340.4 L448.8,315.5 L455.3,292.2 L461.7,269.8 L468.2,249.0 L474.6,217.6 L481.1,196.1 L487.6,196.1 L494.0,191.9 L500.5,190.4 L506.9,190.0 L513.4,190.0 L519.8,190.0 L526.3,188.7 L532.7,183.4 L539.2,177.1 L545.6,169.7 L552.1,159.1 L558.5,148.5 L565.0,140.5 L571.4,136.2 L577.9,134.3 L584.3,132.0 L590.8,128.6 L597.2,125.7 L603.7,122.6 L610.1,120.2 L616.6,119.0 L623.0,117.8 L629.5,117.2 L635.9,117.2 L642.4,117.2 L648.9,117.9 L655.3,120.6 L661.8,126.8 L668.2,135.3 L674.7,142.7 L681.1,148.0 L687.6,150.1 L694.0,150.1 L700.5,150.1 L706.9,148.0 L713.4,148.0" fill="none" stroke="#ffcb00" stroke-width="2.75" stroke-linejoin="round" stroke-linecap="round"/>
<path d="M61.7,373.4 L68.2,373.4 L74.6,373.4 L81.1,373.4 L87.5,373.4 L94.0,373.4 L100.4,368.6 L106.9,358.6 L113.3,348.0 L119.8,333.4 L126.2,328.5 L132.7,326.4 L139.1,322.6 L145.6,313.2 L152.1,303.6 L158.5,284.0 L165.0,270.2 L171.4,267.7 L177.9,267.4 L184.3,267.2 L190.8,266.8 L197.2,266.0 L203.7,266.0 L210.1,266.0 L216.6,281.5 L223.0,300.5 L229.5,315.4 L235.9,327.5 L242.4,328.2 L248.8,328.2 L255.3,328.2 L261.7,328.2 L268.2,328.2 L274.6,328.2 L281.1,329.2 L287.5,331.3 L294.0,341.5 L300.4,352.6 L306.9,357.5 L313.4,365.8 L319.8,365.8 L326.3,363.3 L332.7,364.4 L339.2,360.1 L345.6,361.0 L352.1,358.6 L358.5,355.8 L365.0,355.0 L371.4,354.8 L377.9,354.8 L384.3,354.8 L390.8,354.8 L397.2,355.0 L403.7,354.8 L410.1,354.6 L416.6,354.4 L423.0,353.9 L429.5,348.9 L435.9,347.6 L442.4,343.8 L448.8,324.0 L455.3,307.0 L461.7,273.1 L468.2,238.0 L474.6,228.0 L481.1,221.0 L487.6,220.0 L494.0,219.1 L500.5,218.0 L506.9,216.5 L513.4,216.5 L519.8,216.5 L526.3,216.5 L532.7,216.5 L539.2,216.5 L545.6,216.5 L552.1,199.9 L558.5,181.8 L565.0,167.8 L571.4,166.6 L577.9,164.3 L584.3,160.4 L590.8,152.8 L597.2,135.0 L603.7,127.3 L610.1,120.9 L616.6,117.9 L623.0,115.1 L629.5,113.4 L635.9,111.8 L642.4,110.8 L648.9,110.8 L655.3,116.6 L661.8,135.3 L668.2,153.3 L674.7,170.2 L681.1,186.1 L687.6,186.1 L694.0,186.1 L700.5,186.1 L706.9,186.1 L713.4,186.1" fill="none" stroke="#3e5a5d" stroke-width="4.35" stroke-linejoin="round" stroke-linecap="round"/>
<text x="566.2" y="307.5" font-size="13.6" font-weight="bold" fill="#ff0000" stroke="#ff0000" stroke-width="0.2" textLength="71.4" lengthAdjust="spacingAndGlyphs">Semaine 50</text>
<line x1="546.8" y1="328.2" x2="564.2" y2="328.2" stroke="#00adee" stroke-width="3.0" stroke-linecap="round"/>
<text x="566.4" y="332.7" font-size="13.2" font-weight="bold" fill="#000" stroke="#000" stroke-width="0.25" textLength="116.7" lengthAdjust="spacingAndGlyphs">Danemark (D.M.A)</text>
<line x1="546.8" y1="353.4" x2="564.2" y2="353.4" stroke="#ff0000" stroke-width="3" stroke-linecap="round"/>
<text x="566.4" y="357.5" font-size="13.2" font-weight="bold" fill="#000" stroke="#000" stroke-width="0.25" textLength="104.9" lengthAdjust="spacingAndGlyphs">Allemagne (AMI)</text>
<line x1="546.8" y1="378.9" x2="564.2" y2="378.9" stroke="#ffcb00" stroke-width="2.5" stroke-linecap="round"/>
<text x="566.4" y="383" font-size="13.2" font-weight="bold" fill="#000" stroke="#000" stroke-width="0.25" textLength="137.3" lengthAdjust="spacingAndGlyphs">Espagne (Mercolleida)</text>
<line x1="546.8" y1="404.2" x2="564.2" y2="404.2" stroke="#3e5a5d" stroke-width="3.9" stroke-linecap="round"/>
<text x="566.4" y="408.4" font-size="13.2" font-weight="bold" fill="#000" stroke="#000" stroke-width="0.25" textLength="28.6" lengthAdjust="spacingAndGlyphs">MPB</text>
<text x="541.7" y="439.8" font-size="9.4" fill="#1f1f1f" textLength="165.2" lengthAdjust="spacingAndGlyphs">Méthode de calcul commune avec l'IFIP</text>
<text x="169.9" y="49.9" font-size="23.4" font-weight="bold" fill="#000" stroke="#000" stroke-width="0.3" textLength="462.4" lengthAdjust="spacingAndGlyphs">Estimation des prix moyens payés éleveurs</text>
<g filter="url(#ts)"><text x="274.9" y="97.3" font-size="32.0" font-weight="bold" textLength="72.2" lengthAdjust="spacingAndGlyphs" stroke-linejoin="round" fill="#ff7b81" stroke="#a8756c" stroke-width="1.4">2021</text><text x="274.9" y="97.3" font-size="32.0" font-weight="bold" textLength="72.2" lengthAdjust="spacingAndGlyphs" stroke-linejoin="round" fill="#ff7b81" stroke="#ff7b81" stroke-width="0.45">2021</text></g>
<g filter="url(#ts)"><text x="635.9" y="97.3" font-size="32.0" font-weight="bold" textLength="72.2" lengthAdjust="spacingAndGlyphs" stroke-linejoin="round" fill="#ff7b81" stroke="#a8756c" stroke-width="1.4">2022</text><text x="635.9" y="97.3" font-size="32.0" font-weight="bold" textLength="72.2" lengthAdjust="spacingAndGlyphs" stroke-linejoin="round" fill="#ff7b81" stroke="#ff7b81" stroke-width="0.45">2022</text></g>
</g>
</svg></body></html>
